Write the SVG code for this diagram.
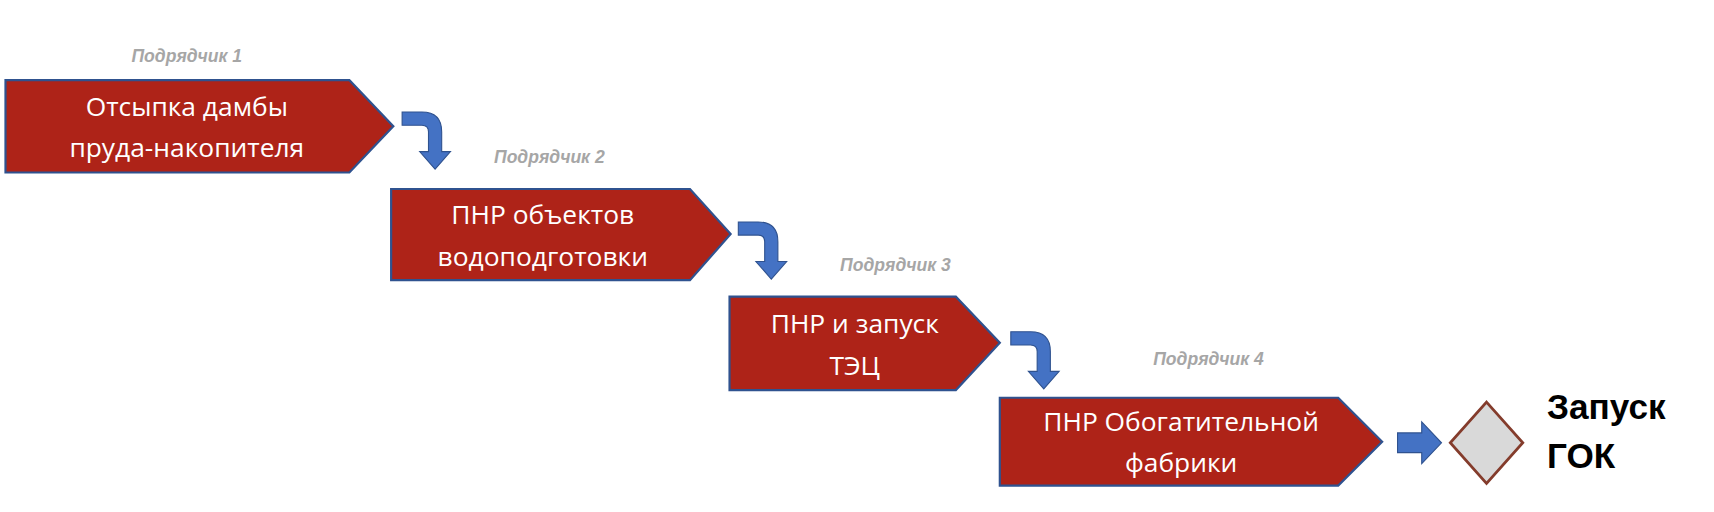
<svg xmlns="http://www.w3.org/2000/svg" width="1714" height="512" viewBox="0 0 1714 512">
<defs>
<style>
.box{fill:#ae2318;stroke:#2f528f;stroke-width:2}
.bt{fill:#fff;font-family:"Open Sans","Liberation Sans",sans-serif;font-size:24px;text-anchor:middle}
.sub{fill:#a6a6a6;font-family:"Liberation Sans",sans-serif;font-size:16px;font-style:italic;font-weight:bold;text-anchor:middle}
.arr{fill:#4472c4;stroke:#2f528f;stroke-width:1}
.goal{font-family:"Liberation Sans",sans-serif;font-size:32px;font-weight:bold;fill:#000}
</style>
<path id="ca" d="M0,0 H18 Q36,0 36,18 V36 H44 L30,52 L16,36 H24 V18 Q24,12 18,12 H0 Z"/>
</defs>
<rect width="1714" height="512" fill="#fff"/>
<g transform="scale(1.0987)">
<g id="connectors">
<use href="#ca" class="arr" transform="translate(366,102)"/>
<use href="#ca" class="arr" transform="translate(672,202)"/>
<use href="#ca" class="arr" transform="translate(920,302)"/>
<path class="arr" d="M1272,394 H1294 V384 L1312,403 L1294,422 V412 H1272 Z"/>
</g>
<g id="n1">
<text class="sub" x="170" y="56">Подрядчик 1</text>
<path class="box" d="M5,73 H318 L358,115 L318,157 H5 Z"/>
<text class="bt" x="170" y="106">Отсыпка дамбы</text>
<text class="bt" x="170" y="143">пруда-накопителя</text>
</g>
<g id="n2">
<text class="sub" x="500" y="148">Подрядчик 2</text>
<path class="box" d="M356,172 H628 L665,213 L628,255 H356 Z"/>
<text class="bt" x="494" y="204">ПНР объектов</text>
<text class="bt" x="494" y="242">водоподготовки</text>
</g>
<g id="n3">
<text class="sub" x="815" y="247">Подрядчик 3</text>
<path class="box" d="M664,270 H870 L910,312 L870,355 H664 Z"/>
<text class="bt" x="778" y="303">ПНР и запуск</text>
<text class="bt" x="778" y="341">ТЭЦ</text>
</g>
<g id="n4">
<text class="sub" x="1100" y="332">Подрядчик 4</text>
<path class="box" d="M910,362 H1218 L1258,402 L1218,442 H910 Z"/>
<text class="bt" x="1075" y="392">ПНР Обогатительной</text>
<text class="bt" x="1075" y="430">фабрики</text>
</g>
<g id="goal">
<path d="M1353,366 L1386,403 L1353,440 L1320,403 Z" fill="#d9d9d9" stroke="#843c2c" stroke-width="2.5"/>
<text class="goal" x="1408" y="381">Запуск</text>
<text class="goal" x="1408" y="426">ГОК</text>
</g>
</g>
</svg>
